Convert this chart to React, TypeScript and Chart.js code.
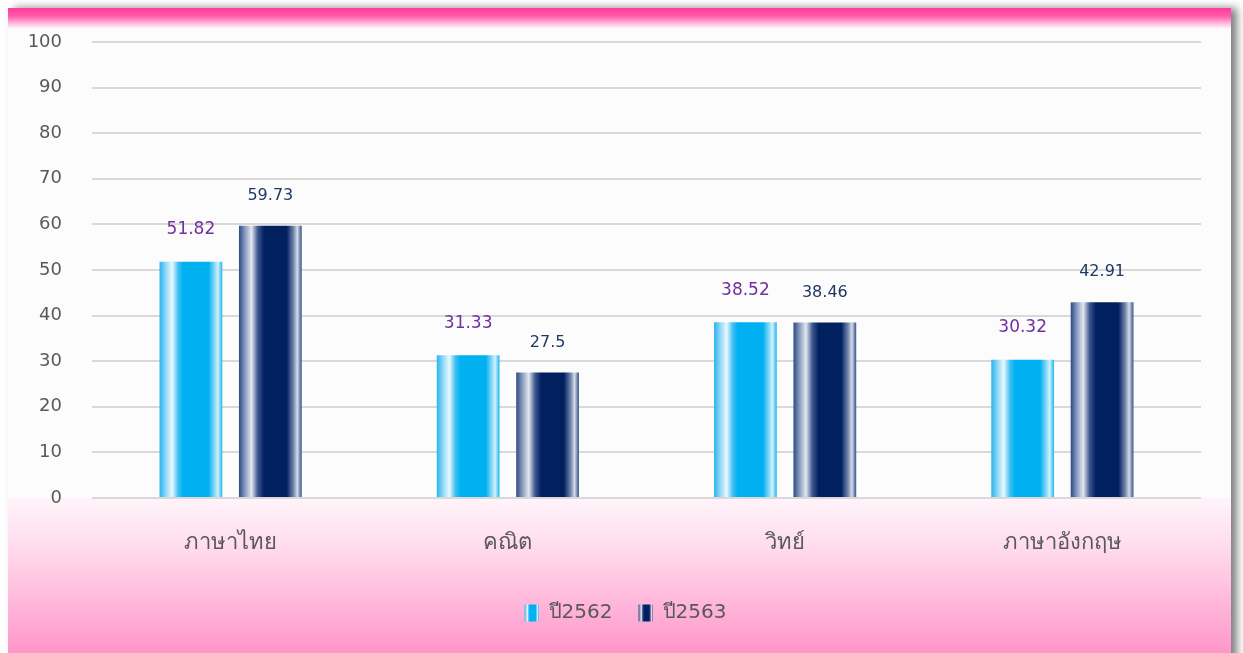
import React, { useEffect, useRef } from "react";
import { Chart, registerables } from "chart.js";

Chart.register(...registerables);

const categories = ["ภาษาไทย", "คณิต", "วิทย์", "ภาษาอังกฤษ"];
const seriesNames = ["ปี2562", "ปี2563"];
const values2562 = [51.82, 31.33, 38.52, 30.32];
const values2563 = [59.73, 27.5, 38.46, 42.91];
const yTicks = [0, 10, 20, 30, 40, 50, 60, 70, 80, 90, 100];

const W = 1243;
const H = 653;
const FONT = "Tahoma, 'DejaVu Sans', 'Noto Sans', sans-serif";

const lightStops: [number, string][] = [
  [0, "#2AB3EE"],
  [0.1, "#8FD8F7"],
  [0.2, "#EAF8FE"],
  [0.3, "#3DBEF2"],
  [0.38, "#00B0F0"],
  [0.78, "#00B0F0"],
  [0.88, "#8ADBF8"],
  [0.93, "#D2F1FC"],
  [1, "#1DB6F1"],
];
const darkStops: [number, string][] = [
  [0, "#2C4A84"],
  [0.1, "#8C9DC0"],
  [0.2, "#E4E8F0"],
  [0.3, "#3E5891"],
  [0.4, "#002060"],
  [0.76, "#002060"],
  [0.87, "#7587AF"],
  [0.93, "#D6DCE8"],
  [1, "#34508B"],
];
const stopsFor = [lightStops, darkStops];
const labelColors = ["#7030A0", "#1F3864"];
const labelSizes = [17, 16];
const labelOffsets = [32, 30];
const LEGEND_SHIFT = 25;

function makeGrad(ctx: CanvasRenderingContext2D, x0: number, x1: number, stops: [number, string][]) {
  const g = ctx.createLinearGradient(x0, 0, x1, 0);
  stops.forEach(([o, c]) => g.addColorStop(o, c));
  return g;
}

const framePlugin = {
  id: "frame",
  afterLayout(chart: any) {
    const lg = chart.legend;
    if (lg) {
      lg.left += LEGEND_SHIFT;
      lg.right += LEGEND_SHIFT;
    }
  },
  beforeDraw(chart: any) {
    const ctx: CanvasRenderingContext2D = chart.ctx;
    const area = chart.chartArea;
    ctx.save();
    ctx.fillStyle = "#ffffff";
    ctx.fillRect(0, 0, W, H);
    ctx.save();
    ctx.shadowColor = "rgba(0,0,0,0.5)";
    ctx.shadowBlur = 8;
    ctx.shadowOffsetX = 6;
    ctx.shadowOffsetY = 0;
    ctx.fillStyle = "#FCFCFC";
    ctx.fillRect(8, 8, 1223, 700);
    ctx.restore();
    ctx.fillStyle = "#FCFCFC";
    ctx.fillRect(8, 8, 1223, 700);
    const tg = ctx.createLinearGradient(0, 8, 0, 29);
    tg.addColorStop(0, "#FF3A9C");
    tg.addColorStop(0.4, "#FF5EAC");
    tg.addColorStop(0.75, "#FFBEDD");
    tg.addColorStop(1, "#FCFCFC");
    ctx.fillStyle = tg;
    ctx.fillRect(8, 8, 1223, 21);
    const b0 = area.bottom;
    const bg = ctx.createLinearGradient(0, b0, 0, H);
    bg.addColorStop(0, "#FFF4F9");
    bg.addColorStop(0.3, "#FFDDEE");
    bg.addColorStop(0.55, "#FFC4E1");
    bg.addColorStop(1, "#FF96C9");
    ctx.fillStyle = bg;
    ctx.fillRect(8, b0, 1223, H - b0);
    ctx.restore();

    const legend = chart.legend;
    if (legend && legend.legendHitBoxes && legend.legendItems) {
      legend.legendItems.forEach((item: any, i: number) => {
        const hb = legend.legendHitBoxes[i];
        if (!hb) return;
        const bw = legend.options.labels.boxWidth;
        item.fillStyle = makeGrad(ctx, hb.left, hb.left + bw, stopsFor[i]);
      });
    }
  },
  beforeDatasetsDraw(chart: any) {
    const ctx: CanvasRenderingContext2D = chart.ctx;
    chart.data.datasets.forEach((_: any, di: number) => {
      const meta = chart.getDatasetMeta(di);
      meta.data.forEach((el: any) => {
        const { x, width } = el.getProps(["x", "width"], true);
        const g = makeGrad(ctx, x - width / 2, x + width / 2, stopsFor[di]);
        el.options = Object.assign({}, el.options, { backgroundColor: g });
      });
    });
  },
  afterDatasetsDraw(chart: any) {
    const ctx: CanvasRenderingContext2D = chart.ctx;
    ctx.save();
    ctx.textAlign = "center";
    ctx.textBaseline = "middle";
    chart.data.datasets.forEach((ds: any, di: number) => {
      const meta = chart.getDatasetMeta(di);
      ctx.fillStyle = labelColors[di];
      ctx.font = `${labelSizes[di]}px ${FONT}`;
      meta.data.forEach((el: any, i: number) => {
        const { x, y } = el.getProps(["x", "y"], true);
        ctx.fillText(String(ds.data[i]), x, y - labelOffsets[di]);
      });
    });
    ctx.restore();
  },
};

export default function App() {
  const ref = useRef<HTMLCanvasElement>(null);
  useEffect(() => {
    if (!ref.current) return;
    const chart = new Chart(ref.current, {
      type: "bar",
      data: {
        labels: categories,
        datasets: [
          {
            label: seriesNames[0],
            data: values2562,
            backgroundColor: "#00B0F0",
            borderWidth: 0,
            inflateAmount: 0,
            categoryPercentage: 0.573,
            barPercentage: 0.79,
          },
          {
            label: seriesNames[1],
            data: values2563,
            backgroundColor: "#002060",
            borderWidth: 0,
            inflateAmount: 0,
            categoryPercentage: 0.573,
            barPercentage: 0.79,
          },
        ],
      },
      options: {
        responsive: false,
        animation: false,
        events: [],
        layout: { padding: { top: 42, right: 42, left: 0, bottom: 20 } },
        plugins: {
          tooltip: { enabled: false },
          legend: {
            position: "bottom",
            labels: {
              boxWidth: 14,
              boxHeight: 17,
              padding: 26,
              color: "#595959",
              font: { family: FONT, size: 20 },
            },
          },
        },
        scales: {
          x: {
            grid: { display: false },
            border: { display: false },
            ticks: {
              color: "#595959",
              font: { family: FONT, size: 22 },
              padding: 24,
            },
            afterFit(scale: any) {
              scale.height = 79;
            },
          },
          y: {
            min: 0,
            max: 100,
            afterBuildTicks(scale: any) {
              scale.ticks = yTicks.map((v) => ({ value: v }));
            },
            grid: { color: "#D9D9D9", lineWidth: 2, drawTicks: false },
            border: { display: false },
            ticks: {
              color: "#595959",
              font: { family: FONT, size: 18 },
              padding: 30,
            },
            afterFit(scale: any) {
              scale.width = 92;
            },
          },
        },
      },
      plugins: [framePlugin],
    });
    return () => chart.destroy();
  }, []);
  return (
    <div style={{ position: "fixed", left: 0, top: 0, width: W, height: H }}>
      <canvas ref={ref} width={W} height={H} style={{ display: "block" }} />
    </div>
  );
}
